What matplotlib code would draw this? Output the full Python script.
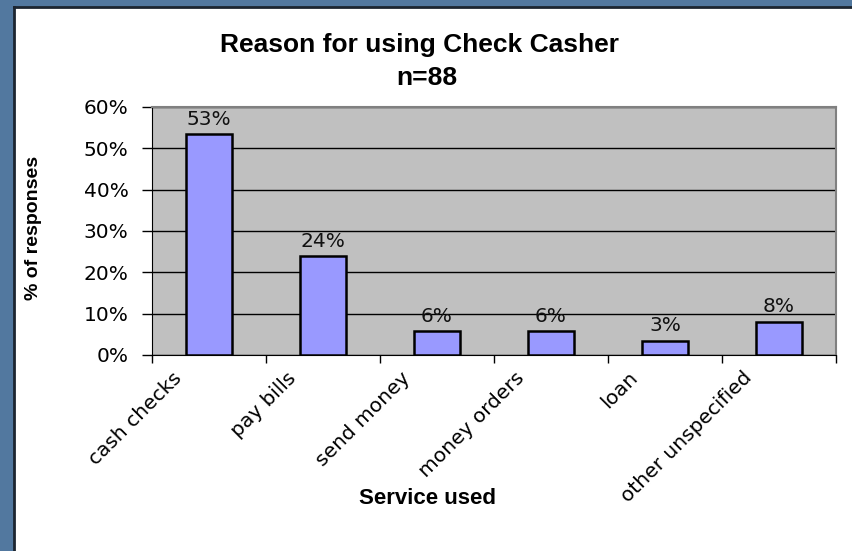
import matplotlib.pyplot as plt
from matplotlib.patches import Rectangle
from matplotlib.ticker import FixedLocator, FuncFormatter
import matplotlib.transforms as mtransforms

# Survey results: share of responses per service (n=88)
services = ["cash checks", "pay bills", "send money", "money orders", "loan", "other unspecified"]
share_pct = [53.4, 23.9, 5.7, 5.7, 3.4, 8.0]
y_ticks = [0, 10, 20, 30, 40, 50, 60]

fig = plt.figure(figsize=(8.53, 5.51), dpi=100)
fig.patch.set_facecolor("#52789f")

# white chart panel with a dark edge on the left and top
panel = Rectangle((14 / 853, 0), 1, 1 - 7 / 551, transform=fig.transFigure,
                  facecolor="white", edgecolor="none", zorder=-2)
fig.patches.append(panel)
fig.add_artist(plt.Line2D([14 / 853, 14 / 853], [0, 1 - 7 / 551], transform=fig.transFigure,
                          color="#1c2530", lw=2, zorder=-1))
fig.add_artist(plt.Line2D([14 / 853, 1], [1 - 7 / 551, 1 - 7 / 551], transform=fig.transFigure,
                          color="#1c2530", lw=2, zorder=-1))

ax = fig.add_axes([152 / 853, 1 - 355 / 551, (836 - 152) / 853, (355 - 107) / 551])
ax.set_facecolor("#c0c0c0")

x = list(range(len(services)))
ax.bar(x, share_pct, width=0.4, color="#9999ff", edgecolor="black", linewidth=1.8, zorder=3)
for xi, v in zip(x, share_pct):
    ax.annotate(f"{v:.0f}%", (xi, v), xytext=(0, 4), textcoords="offset points",
                ha="center", va="bottom", fontsize=14.5, family="DejaVu Sans", color="#111111")

ax.set_xlim(-0.5, len(services) - 0.5)
ax.set_ylim(0, 60)
ax.yaxis.set_major_locator(FixedLocator(y_ticks))
ax.yaxis.set_major_formatter(FuncFormatter(lambda v, p: f"{v:.0f}%"))
ax.grid(axis="y", color="black", lw=1, zorder=1)
ax.set_axisbelow(True)
ax.tick_params(axis="y", length=7, width=1, labelsize=14.5, pad=10)

# category boundary ticks on the x axis, labels placed separately
ax.set_xticks([i - 0.5 for i in range(len(services) + 1)])
ax.set_xticklabels([])
ax.tick_params(axis="x", length=6, width=1)

for side in ["top", "right"]:
    ax.spines[side].set_color("#808080")
    ax.spines[side].set_linewidth(1.5)
for side in ["left", "bottom"]:
    ax.spines[side].set_color("black")

offset = mtransforms.ScaledTranslation(-30 / 100, -20 / 100, fig.dpi_scale_trans)
lab_tr = ax.get_xaxis_transform() + offset
for xi, name in zip(x, services):
    ax.text(xi, 0, name, transform=lab_tr, rotation=45, rotation_mode="anchor",
            ha="right", va="center", fontsize=14.5, family="DejaVu Sans")

fig.text(420 / 853, 1 - 45 / 551, "Reason for using Check Casher", ha="center", va="center",
         fontsize=19, fontweight="bold", family="Liberation Sans")
fig.text(427 / 853, 1 - 78 / 551, "n=88", ha="center", va="center",
         fontsize=19, fontweight="bold", family="Liberation Sans")
fig.text(428 / 853, 1 - 499 / 551, "Service used", ha="center", va="center",
         fontsize=16, fontweight="bold", family="Liberation Sans")
fig.text(34 / 853, 1 - 228 / 551, "% of responses", ha="center", va="center", rotation=90,
         fontsize=14, fontweight="bold", family="Liberation Sans")

fig.savefig("out.png", dpi=100)
